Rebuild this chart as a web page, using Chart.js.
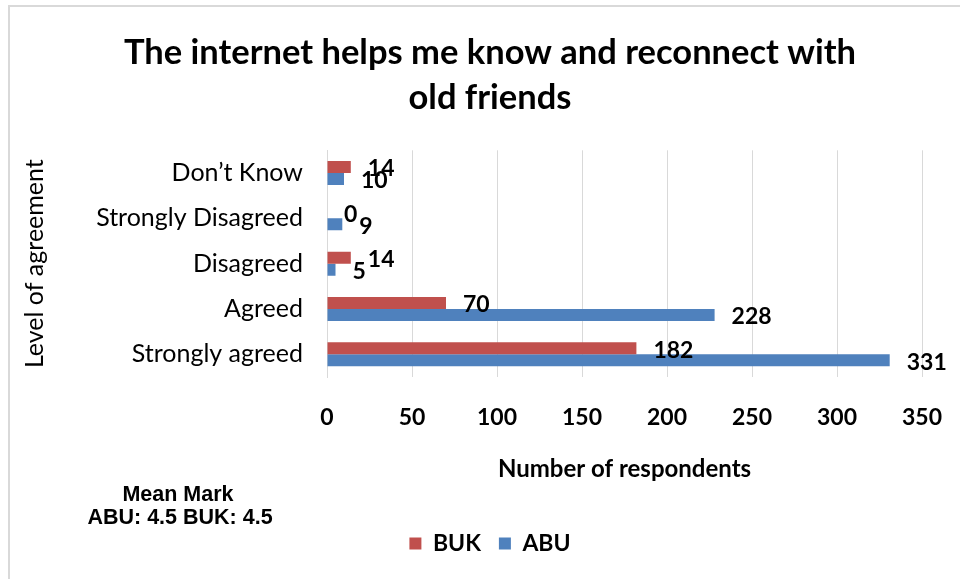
<!DOCTYPE html>
<html>
<head>
<meta charset="utf-8">
<script src="https://cdn.jsdelivr.net/npm/chart.js@4/dist/chart.umd.min.js"></script>
<style>
  html, body { margin: 0; padding: 0; background: #fff; }
  #wrap { position: relative; width: 960px; height: 579px; }
</style>
</head>
<body>
<div id="wrap"><canvas id="chart" width="960" height="579"></canvas></div>
<script>
// Survey responses by level of agreement
const categories = ['Don\u2019t Know', 'Strongly Disagreed', 'Disagreed', 'Agreed', 'Strongly agreed'];
const bukValues = [14, 0, 14, 70, 182];
const abuValues = [10, 9, 5, 228, 331];
const seriesNames = ['BUK', 'ABU'];
const xTicks = [0, 50, 100, 150, 200, 250, 300, 350];
const titleLines = ['The internet helps me know and reconnect with', 'old friends'];
const meanLines = ['Mean Mark', 'ABU: 4.5 BUK: 4.5'];

const RED = '#C0504D';
const BLUE = '#4F81BD';
const GRID = '#D9D9D9';
const FONT = 'Lato, "Open Sans", sans-serif';

// white background and the outer frame of the chart
const frame = {
  id: 'frame',
  beforeDraw(chart) {
    const ctx = chart.ctx;
    ctx.save();
    ctx.fillStyle = '#fff';
    ctx.fillRect(0, 0, chart.width, chart.height);
    ctx.strokeStyle = '#D9D9D9';
    ctx.lineWidth = 2;
    ctx.beginPath();
    ctx.moveTo(9, chart.height);
    ctx.lineTo(9, 6);
    ctx.lineTo(chart.width, 6);
    ctx.stroke();
    ctx.restore();
  }
};

// value labels just past the end of each bar
const valueLabels = {
  id: 'valueLabels',
  afterDatasetsDraw(chart) {
    const ctx = chart.ctx;
    ctx.save();
    ctx.font = 'bold 23px ' + FONT;
    ctx.fillStyle = '#000';
    ctx.textAlign = 'left';
    ctx.textBaseline = 'middle';
    chart.data.datasets.forEach((ds, di) => {
      const meta = chart.getDatasetMeta(di);
      meta.data.forEach((bar, i) => {
        ctx.fillText(String(ds.data[i]), bar.x + 17, bar.y + 2);
      });
    });
    ctx.restore();
  }
};

// mean mark note in the lower left corner
const meanNote = {
  id: 'meanNote',
  afterDraw(chart) {
    const ctx = chart.ctx;
    ctx.save();
    ctx.font = 'bold 21.5px "Liberation Sans", Arial, sans-serif';
    ctx.fillStyle = '#000';
    ctx.textAlign = 'center';
    ctx.textBaseline = 'middle';
    ctx.fillText(meanLines[0], 178, 495);
    ctx.fillText(meanLines[1], 180, 518);
    ctx.restore();
  }
};

new Chart(document.getElementById('chart'), {
  type: 'bar',
  data: {
    labels: categories,
    datasets: [
      { label: seriesNames[0], data: bukValues, backgroundColor: RED },
      { label: seriesNames[1], data: abuValues, backgroundColor: BLUE }
    ]
  },
  options: {
    indexAxis: 'y',
    responsive: false,
    animation: false,
    devicePixelRatio: 1,
    categoryPercentage: 0.53,
    barPercentage: 1.0,
    layout: { padding: { left: 20, right: 0, top: 8, bottom: 14 } },
    plugins: {
      title: {
        display: true,
        text: titleLines,
        color: '#000',
        font: { family: FONT, size: 34.5, weight: 'bold', lineHeight: 1.3 },
        padding: { top: 22.6, bottom: 30 }
      },
      legend: {
        position: 'bottom',
        labels: {
          boxWidth: 12,
          boxHeight: 12,
          padding: 18,
          color: '#000',
          font: { family: FONT, size: 23, weight: 'bold' }
        }
      },
      tooltip: { enabled: false }
    },
    scales: {
      x: {
        type: 'linear',
        min: 0,
        max: 350,
        afterBuildTicks(scale) { scale.ticks = xTicks.map(v => ({ value: v })); },
        afterFit(scale) {
          scale.height = 137;
          scale.paddingRight = 0;
        },
        grid: { color: GRID, lineWidth: 1, drawTicks: false },
        border: { display: false },
        ticks: {
          color: '#000',
          padding: 27,
          font: { family: FONT, size: 23, weight: 'bold' }
        },
        title: {
          display: true,
          text: 'Number of respondents',
          color: '#000',
          font: { family: FONT, size: 24, weight: 'bold' },
          padding: { top: 0, bottom: 30 }
        }
      },
      y: {
        afterFit(scale) { scale.width = 307; },
        grid: { display: false, drawTicks: false },
        border: { display: true, color: GRID, width: 1 },
        ticks: {
          color: '#000',
          padding: 24,
          font: { family: FONT, size: 25 }
        },
        title: {
          display: true,
          text: 'Level of agreement',
          color: '#000',
          font: { family: FONT, size: 25 },
          padding: { top: 0, bottom: 0 }
        }
      },
      yRight: {
        type: 'linear',
        position: 'right',
        display: true,
        afterFit(scale) { scale.width = 38; },
        grid: { display: false, drawTicks: false },
        border: { display: false },
        ticks: { display: false }
      }
    }
  },
  plugins: [frame, valueLabels, meanNote]
});
</script>
</body>
</html>
